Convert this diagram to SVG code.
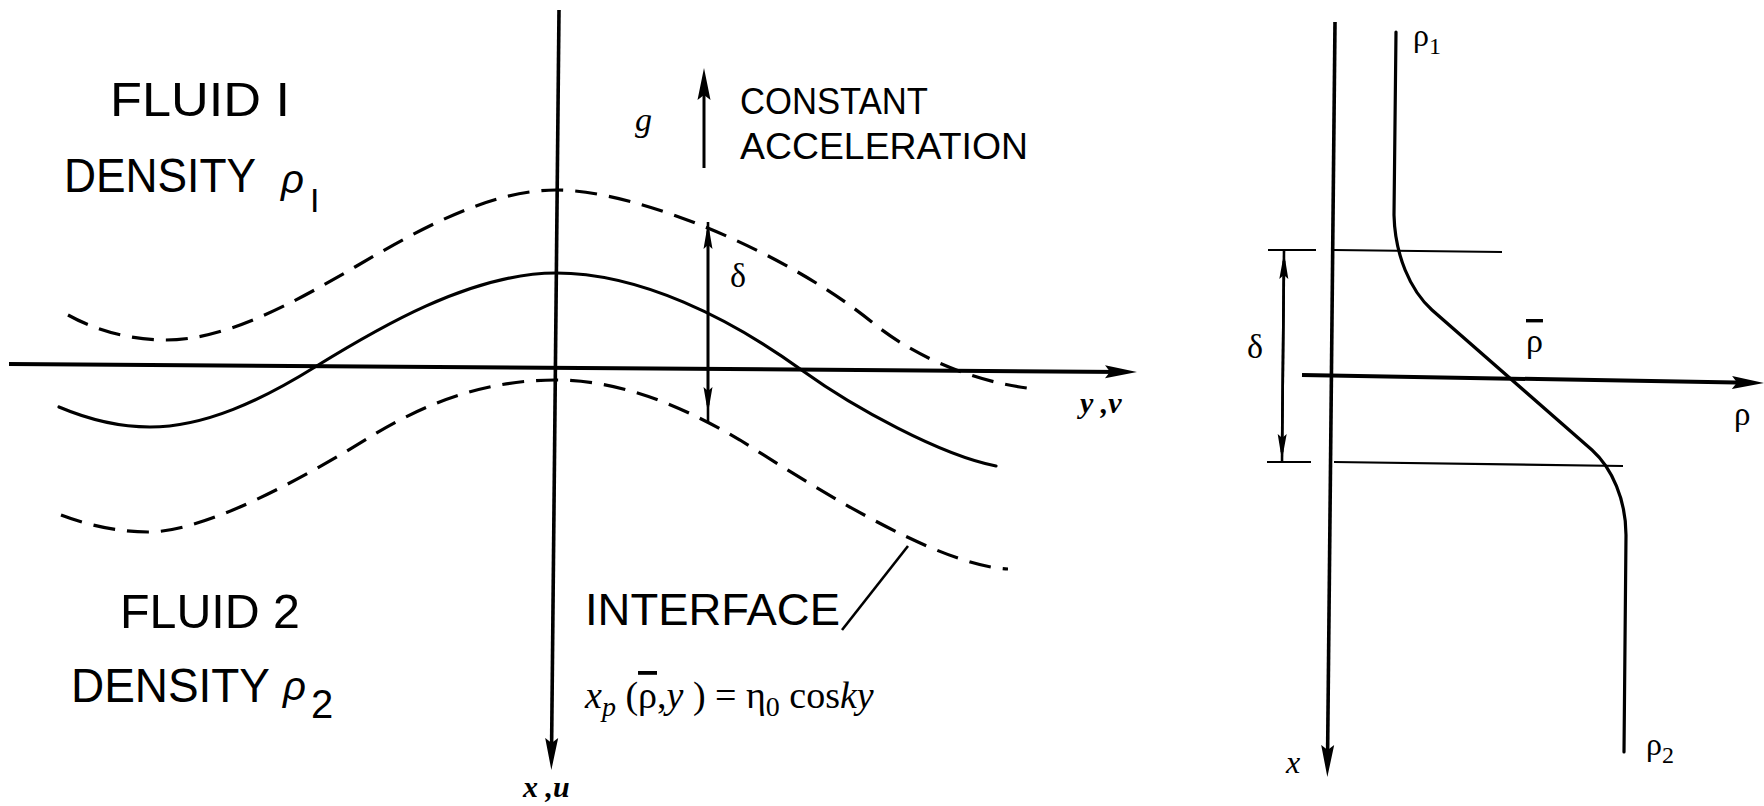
<svg xmlns="http://www.w3.org/2000/svg" width="1764" height="806" viewBox="0 0 1764 806">
<style>
.ax{fill:none;stroke:#000;stroke-width:4;stroke-linecap:butt}
.cv{fill:none;stroke:#000;stroke-width:3.2;stroke-linecap:round}
.ds{fill:none;stroke:#000;stroke-width:3.2;stroke-dasharray:22 12}
.th{fill:none;stroke:#000;stroke-width:2.2}
.dl{fill:none;stroke:#000;stroke-width:2.6}
.blk{font-family:"Liberation Sans",Arial,sans-serif;fill:#000}
.rh{font-family:"Liberation Sans",Arial,sans-serif;font-style:italic;fill:#000}
.mt{font-family:"Liberation Serif","Times New Roman",serif;fill:#000}
.mi{font-family:"Liberation Serif","Times New Roman",serif;font-style:italic;fill:#000}
.mb{font-family:"Liberation Serif","Times New Roman",serif;font-style:italic;font-weight:bold;fill:#000}
.ov{text-decoration:overline}
</style>
<defs>
<marker id="ah" viewBox="0 0 32 14" markerWidth="32" markerHeight="14" refX="18" refY="7" orient="auto" markerUnits="userSpaceOnUse"><path d="M0,0.5 L32,7 L0,13.5 L5,7 Z" fill="#000"/></marker>
<marker id="as" viewBox="0 0 26 10" markerWidth="26" markerHeight="10" refX="18" refY="5" orient="auto" markerUnits="userSpaceOnUse"><path d="M0,0.5 L26,5 L0,9.5 L4,5 Z" fill="#000"/></marker>
</defs>
<rect width="1764" height="806" fill="#fff"/>

<g id="connectors">
  <!-- left panel axes -->
  <path class="ax" d="M9 364 L1123 371.9" marker-end="url(#ah)"/>
  <path class="ax" d="M559 10 L551.5 756" marker-end="url(#ah)" style="stroke-width:3.6"/>
  <!-- gravity arrow -->
  <path class="ax" d="M704 168 L704 82" marker-end="url(#ah)" style="stroke-width:3"/>
  <!-- delta arrow left -->
  <path class="dl" d="M708 222 L708 422"/>
  <path class="dl" d="M708 318 L708 231" marker-end="url(#as)"/>
  <path class="dl" d="M708 318 L708 405" marker-end="url(#as)"/>
  <!-- interface leader -->
  <path class="th" d="M842 630 L908 546" style="stroke-width:2.6"/>
  <!-- right panel axes -->
  <path class="ax" d="M1335 22 L1327.5 763" marker-end="url(#ah)" style="stroke-width:3.6"/>
  <path class="ax" d="M1302 375 L1750 382.8" marker-end="url(#ah)"/>
  <!-- delta bounds right -->
  <path class="th" d="M1268 250 L1316 250"/>
  <path class="th" d="M1334 250 L1502 252"/>
  <path class="th" d="M1267 462 L1311 462"/>
  <path class="th" d="M1334 462 L1623 466"/>
  <path class="dl" d="M1284 251 L1282 463"/>
  <path class="dl" d="M1283 357 L1284 261" marker-end="url(#as)"/>
  <path class="dl" d="M1283 357 L1282 452" marker-end="url(#as)"/>
</g>

<g id="interface-curve">
  <path class="cv" d="M59 407 C85 418,115 427,150 427 C205 427,262 400,315 367 C375 330,470 273,556 273 C640 273,730 318,803 371 C853 407,940 455,996 466"/>
</g>
<g id="upper-bound">
  <path class="ds" d="M68 315 C95 330,130 340,166 340 C225 340,290 305,355 267 C420 229,490 190,556 190 C640 190,790 255,873 323 C920 361,980 382,1027 388"/>
</g>
<g id="lower-bound">
  <path class="ds" d="M61 515 C90 526,120 532,148 532 C205 532,300 480,370 437 C430 400,490 380,555 380 C620 380,680 405,740 440 C800 478,935 566,1008 569"/>
</g>
<g id="density-profile">
  <path class="cv" d="M1396 32 L1394 215 C1395 255,1410 290,1432 310 L1592 450 C1612 468,1626 500,1626 535 L1624 752"/>
</g>

<g id="fluid1">
  <text class="blk" x="110" y="116" font-size="49" textLength="180" lengthAdjust="spacingAndGlyphs">FLUID I</text>
  <text class="blk" x="64" y="192" font-size="49" textLength="192" lengthAdjust="spacingAndGlyphs">DENSITY</text>
  <text class="rh" x="281" y="193" font-size="40">ρ</text>
  <text class="blk" x="310" y="212" font-size="34">I</text>
</g>
<g id="fluid2">
  <text class="blk" x="120" y="628" font-size="48" textLength="180" lengthAdjust="spacingAndGlyphs">FLUID 2</text>
  <text class="blk" x="71" y="702" font-size="49" textLength="199" lengthAdjust="spacingAndGlyphs">DENSITY</text>
  <text class="rh" x="283" y="700" font-size="40">ρ</text>
  <text class="blk" x="311" y="718" font-size="40">2</text>
</g>
<g id="gravity">
  <text class="mi" x="635" y="131" font-size="34">g</text>
  <text class="blk" x="740" y="114" font-size="37" textLength="188" lengthAdjust="spacingAndGlyphs">CONSTANT</text>
  <text class="blk" x="740" y="159" font-size="37" textLength="288" lengthAdjust="spacingAndGlyphs">ACCELERATION</text>
</g>
<g id="interface">
  <text class="blk" x="585" y="625" font-size="45" textLength="255" lengthAdjust="spacingAndGlyphs">INTERFACE</text>
  <text class="mt" x="585" y="708" font-size="38"><tspan class="mi">x</tspan><tspan class="mi" font-size="28" dy="8">p</tspan><tspan dy="-8"> (</tspan><tspan class="ov">ρ</tspan><tspan>,</tspan><tspan class="mi">y</tspan><tspan> ) = η</tspan><tspan font-size="28" dy="8">0</tspan><tspan dy="-8"> cos</tspan><tspan class="mi">ky</tspan></text>
</g>
<g id="left-labels">
  <text class="mt" x="730" y="287" font-size="34">δ</text>
  <text class="mb" x="1080" y="413" font-size="30">y ,v</text>
  <text class="mb" x="523" y="797" font-size="30">x ,u</text>
</g>
<g id="right-labels">
  <text class="mt" x="1413" y="46" font-size="32">ρ<tspan font-size="24" dy="8">1</tspan></text>
  <text class="mt" x="1247" y="358" font-size="34">δ</text>
  <text class="mt ov" x="1526" y="352" font-size="34">ρ</text>
  <text class="mt" x="1734" y="425" font-size="33">ρ</text>
  <text class="mi" x="1286" y="773" font-size="32">x</text>
  <text class="mt" x="1646" y="755" font-size="32">ρ<tspan font-size="24" dy="8">2</tspan></text>
</g>
</svg>
